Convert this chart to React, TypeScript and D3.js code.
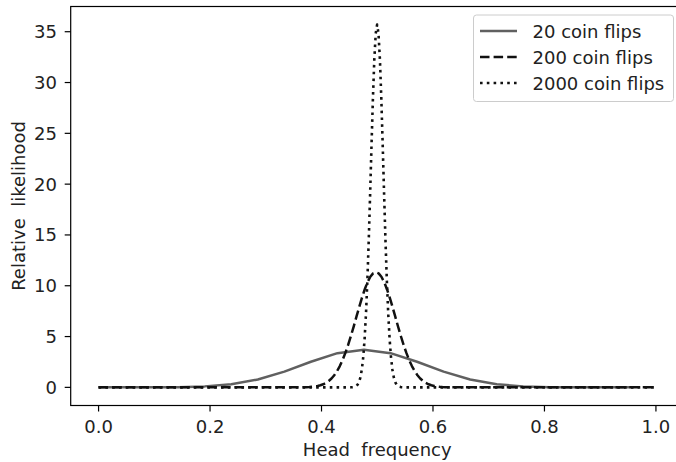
import React from "react";
import * as d3 from "d3";

const xTicks = [0, 0.2, 0.4, 0.6, 0.8, 1.0];
const yTicks = [0, 5, 10, 15, 20, 25, 30, 35];
const seriesLabels = ["20 coin flips", "200 coin flips", "2000 coin flips"];
const flipCounts = [20, 200, 2000];

// 20 flips: number of heads 0..20
const flips20Heads = d3.range(0, 21);
const flips20Values = [
  0.00002, 0.0004, 0.0038, 0.0228, 0.097, 0.3105, 0.7763, 1.5525, 2.5228, 3.3638,
  3.7002, 3.3638, 2.5228, 1.5525, 0.7763, 0.3105, 0.097, 0.0228, 0.0038, 0.0004, 0.00002,
];

// 200 flips: heads 70..130 (≈0 elsewhere)
const flips200Heads = d3.range(70, 131);
const flips200Values = [
  0.001, 0.002, 0.004, 0.007, 0.013, 0.021, 0.035, 0.056, 0.088, 0.136,
  0.206, 0.305, 0.443, 0.63, 0.877, 1.197, 1.601, 2.098, 2.694, 3.39,
  4.181, 5.053, 5.987, 6.953, 7.914, 8.831, 9.659, 10.356, 10.884, 11.214,
  11.326,
  11.214, 10.884, 10.356, 9.659, 8.831, 7.914, 6.953, 5.987, 5.053, 4.181,
  3.39, 2.694, 2.098, 1.601, 1.197, 0.877, 0.63, 0.443, 0.305, 0.206,
  0.136, 0.088, 0.056, 0.035, 0.021, 0.013, 0.007, 0.004, 0.002, 0.001,
];

// 2000 flips: heads 900..1100 every 5 (≈0 elsewhere)
const flips2000Heads = d3.range(900, 1101, 5);
const flips2000Values = [
  0.002, 0.004, 0.011, 0.026, 0.059, 0.129, 0.266, 0.522, 0.975, 1.733,
  2.93, 4.712, 7.207, 10.486, 14.513, 19.107, 23.928, 28.505, 32.3, 34.816,
  35.697,
  34.816, 32.3, 28.505, 23.928, 19.107, 14.513, 10.486, 7.207, 4.712, 2.93,
  1.733, 0.975, 0.522, 0.266, 0.129, 0.059, 0.026, 0.011, 0.004, 0.002,
];

const W = 676;
const H = 462;
const FONT = "'DejaVu Sans', sans-serif";
const FS = 18;

type Pt = [number, number];

function buildSeries(n: number, heads: number[], values: number[], padEnds: boolean): Pt[] {
  const pts: Pt[] = heads.map((k, i) => [k / (n + 1), values[i]] as Pt);
  if (padEnds) {
    return [[0, 0] as Pt, ...pts, [n / (n + 1), 0] as Pt];
  }
  return pts;
}

const styles = [
  { stroke: "#606060", dash: "none", width: 2.5 },
  { stroke: "#111111", dash: "9.5,4.1", width: 2.5 },
  { stroke: "#111111", dash: "2.6,4.2", width: 2.6 },
];

export default function App() {
  const x = d3.scaleLinear().domain([-0.05, 1.05]).range([70.7, 683.8]);
  const y = d3.scaleLinear().domain([-1.785, 37.482]).range([405.5, 6.5]);

  const series: Pt[][] = [
    buildSeries(flipCounts[0], flips20Heads, flips20Values, false),
    buildSeries(flipCounts[1], flips200Heads, flips200Values, true),
    buildSeries(flipCounts[2], flips2000Heads, flips2000Values, true),
  ];

  const line = d3
    .line<Pt>()
    .x((d) => x(d[0]))
    .y((d) => y(d[1]));

  const [x0, x1] = x.range();
  const [yb, yt] = y.range();

  const legendX = 473.5;
  const legendY = 15;
  const rowY = [31, 57, 83];

  return (
    <svg
      width={W}
      height={H}
      style={{ position: "absolute", left: 0, top: 0, background: "#fff" }}
      fontFamily={FONT}
    >
      <rect x={0} y={0} width={W} height={H} fill="#fff" />
      {series.map((pts, i) => (
        <path
          key={i}
          d={line(pts) || ""}
          fill="none"
          stroke={styles[i].stroke}
          strokeWidth={styles[i].width}
          strokeDasharray={styles[i].dash}
          strokeLinejoin="round"
        />
      ))}
      {/* spines */}
      <rect x={x0} y={yt} width={x1 - x0} height={yb - yt} fill="none" stroke="#000" strokeWidth={1.2} />
      {/* x ticks */}
      {xTicks.map((t) => (
        <g key={"x" + t}>
          <line x1={x(t)} x2={x(t)} y1={yb} y2={yb + 6} stroke="#000" strokeWidth={1.2} />
          <text x={x(t)} y={432.7} textAnchor="middle" fontSize={FS} fill="#222">
            {t.toFixed(1)}
          </text>
        </g>
      ))}
      {/* y ticks */}
      {yTicks.map((t) => (
        <g key={"y" + t}>
          <line x1={x0 - 6} x2={x0} y1={y(t)} y2={y(t)} stroke="#000" strokeWidth={1.2} />
          <text x={57} y={y(t) + 6.5} textAnchor="end" fontSize={FS} fill="#222">
            {t}
          </text>
        </g>
      ))}
      <text
        x={(x(0) + x(1)) / 2}
        y={456}
        textAnchor="middle"
        fontSize={FS}
        fill="#222"
        style={{ wordSpacing: "5.7px" }}
      >
        Head frequency
      </text>
      <text
        transform={`translate(25, ${(yb + yt) / 2}) rotate(-90)`}
        textAnchor="middle"
        fontSize={FS}
        fill="#222"
        style={{ wordSpacing: "5.7px" }}
      >
        Relative likelihood
      </text>
      {/* legend */}
      <rect
        x={legendX}
        y={legendY}
        width={200}
        height={86.5}
        rx={3}
        fill="#fff"
        fillOpacity={0.8}
        stroke="#cccccc"
        strokeWidth={1}
      />
      {seriesLabels.map((lab, i) => (
        <g key={lab}>
          <line
            x1={480}
            x2={517}
            y1={rowY[i]}
            y2={rowY[i]}
            stroke={styles[i].stroke}
            strokeWidth={styles[i].width}
            strokeDasharray={styles[i].dash}
          />
          <text x={532.5} y={rowY[i] + 6.5} fontSize={FS} fill="#222">
            {lab}
          </text>
        </g>
      ))}
    </svg>
  );
}
